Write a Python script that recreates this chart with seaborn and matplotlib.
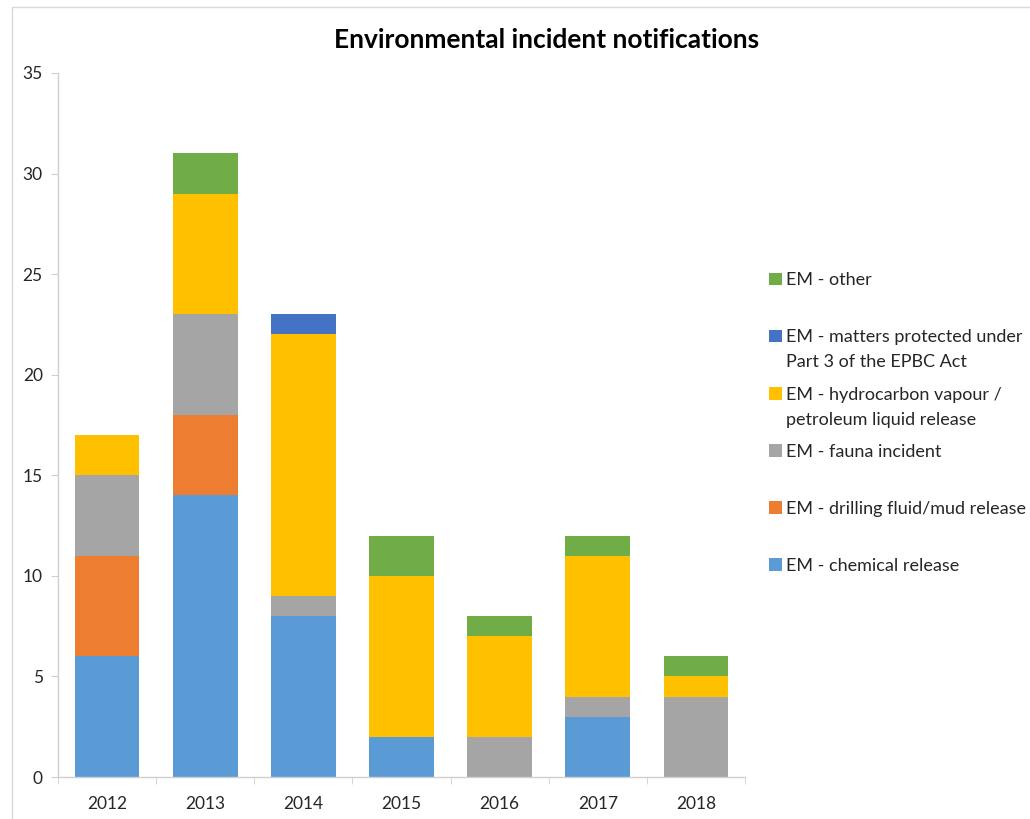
import numpy as np
import seaborn as sns
import matplotlib.pyplot as plt
from matplotlib.lines import Line2D
from matplotlib.transforms import offset_copy

# data
years = ['2012', '2013', '2014', '2015', '2016', '2017', '2018']
chemical = [6, 14, 8, 2, 0, 3, 0]
drilling = [5, 4, 0, 0, 0, 0, 0]
fauna = [4, 5, 1, 0, 2, 1, 4]
hydrocarbon = [2, 6, 13, 8, 5, 7, 1]
matters = [0, 0, 1, 0, 0, 0, 0]
other = [0, 2, 0, 2, 1, 1, 1]

series = [
    ('EM - chemical release', chemical, '#5B9BD5'),
    ('EM - drilling fluid/mud release', drilling, '#ED7D31'),
    ('EM - fauna incident', fauna, '#A5A5A5'),
    ('EM - hydrocarbon vapour /\npetroleum liquid release', hydrocarbon, '#FFC000'),
    ('EM - matters protected under\nPart 3 of the EPBC Act', matters, '#4472C4'),
    ('EM - other', other, '#70AD47'),
]

sns.set_style('white')
plt.rcParams['font.family'] = ['Lato', 'DejaVu Sans']

fig = plt.figure(figsize=(10.3, 8.19), dpi=100)
ax = fig.add_axes([58 / 1030, 1 - 777 / 819, (745 - 58) / 1030, (777 - 73) / 819])

# stacked bars, one layer at a time (legend label = first line only)
bottom = np.zeros(len(years))
for label, vals, color in series:
    sns.barplot(x=years, y=vals, bottom=bottom, color=color, width=0.66,
                saturation=1, label=label.split('\n')[0], ax=ax, linewidth=0)
    bottom = bottom + np.array(vals)

if ax.get_legend() is not None:
    ax.get_legend().remove()

ax.set_xlim(-0.5, len(years) - 0.5)
ax.set_ylim(0, 35)
ax.set_yticks(range(0, 36, 5))

for s in ['top', 'right']:
    ax.spines[s].set_visible(False)
for s in ['left', 'bottom']:
    ax.spines[s].set_color('#D0D0D0')
    ax.spines[s].set_linewidth(1)

# Excel style: ticks between categories
ax.set_xticks(np.arange(-0.5, len(years), 1), minor=True)
ax.tick_params(axis='x', which='major', length=0, pad=14, labelsize=12.5, labelcolor='#262626')
ax.tick_params(axis='x', which='minor', length=5, color='#D0D0D0', direction='out', bottom=True)
ax.tick_params(axis='y', length=5, color='#D0D0D0', direction='out', left=True,
               pad=6, labelsize=12.5, labelcolor='#262626')
ax.set_xlabel('')
ax.set_ylabel('')

fig.text(547 / 1030, 1 - 40 / 819, 'Environmental incident notifications',
         ha='center', va='center', fontsize=19, fontweight='bold', color='black')

# legend in reverse order like the original, entries on an even pitch
handles, labels = ax.get_legend_handles_labels()
leg = fig.legend(handles[::-1], labels[::-1], loc='upper left',
                 bbox_to_anchor=(753 / 1030, 1 - 256 / 819), frameon=False,
                 fontsize=13, labelspacing=2.28, handlelength=0.7,
                 handleheight=0.7, handletextpad=0.2, labelcolor='#262626')

# second lines of the wrapped entries, hanging under their first line
fig.canvas.draw()
full = {lab.split('\n')[0]: lab for lab, _, _ in series}
for t in leg.get_texts():
    lines = full[t.get_text()].split('\n')
    if len(lines) > 1:
        bb = t.get_window_extent()
        tr = offset_copy(fig.transFigure, fig=fig, x=0, y=-25, units='dots')
        fig.text(bb.x0 / fig.bbox.width, bb.y0 / fig.bbox.height, lines[1],
                 transform=tr, ha='left', va='bottom', fontsize=13, color='#262626')

# outer chart border
fig.add_artist(Line2D([12 / 1030, 12 / 1030], [0, 1 - 7 / 819],
                      transform=fig.transFigure, color='#D9D9D9', lw=1))
fig.add_artist(Line2D([12 / 1030, 1], [1 - 7 / 819, 1 - 7 / 819],
                      transform=fig.transFigure, color='#D9D9D9', lw=1))

fig.savefig('out.png', dpi=100)
